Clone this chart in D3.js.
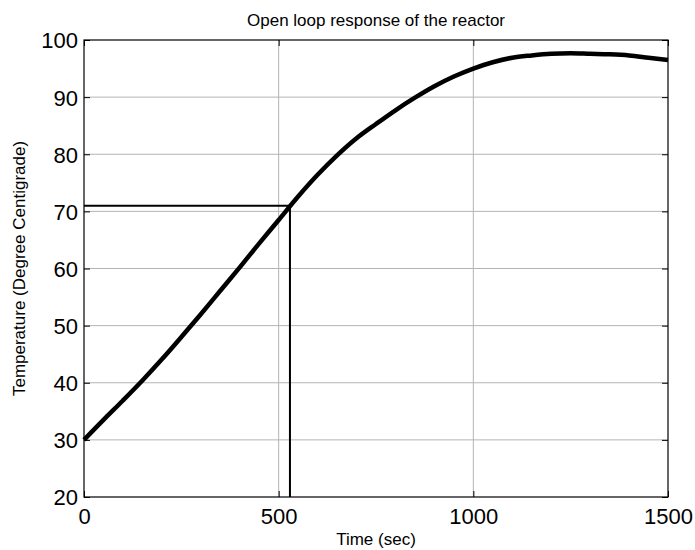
<!DOCTYPE html>
<html>
<head>
<meta charset="utf-8">
<script src="https://cdn.jsdelivr.net/npm/d3@7"></script>
<style>
  body { margin: 0; background: #fff; }
  svg text { font-family: "Liberation Sans", Arial, sans-serif; fill: #000; }
</style>
</head>
<body>
<div id="chart"></div>
<script>
const timeSec = [0, 50, 100, 150, 200, 250, 300, 350, 400, 450, 500, 550, 600, 650, 700,
    750, 800, 850, 900, 950, 1000, 1050, 1100, 1150, 1200, 1250, 1300, 1350, 1400, 1450, 1500];
const tempC = [30, 33.5, 36.9, 40.4, 44.1, 48.0, 52.0, 56.1, 60.2, 64.4, 68.5, 72.6, 76.4, 79.8, 82.8,
    85.3, 87.7, 89.9, 91.9, 93.6, 95.0, 96.1, 96.9, 97.3, 97.6, 97.7, 97.6, 97.5, 97.3, 96.9, 96.5];
// reading marker at ~63% of the rise
const markerT = 529, markerY = 71;
const xTicks = [0, 500, 1000, 1500];
const yTicks = [20, 30, 40, 50, 60, 70, 80, 90, 100];

const width = 695, height = 550;
const margin = {top: 40, right: 27, bottom: 53, left: 84};
const innerW = width - margin.left - margin.right;
const innerH = height - margin.top - margin.bottom;

const svg = d3.select("#chart").append("svg")
    .attr("width", width)
    .attr("height", height);

const x = d3.scaleLinear().domain([0, 1500]).range([0, innerW]);
const y = d3.scaleLinear().domain([20, 100]).range([innerH, 0]);

const g = svg.append("g")
    .attr("transform", `translate(${margin.left},${margin.top})`);

// grid
g.selectAll(".vgrid").data(xTicks.slice(1, -1)).enter().append("line")
    .attr("x1", d => x(d)).attr("x2", d => x(d))
    .attr("y1", 0).attr("y2", innerH)
    .attr("stroke", "#b4b4b4").attr("stroke-width", 1);
g.selectAll(".hgrid").data(yTicks.slice(1, -1)).enter().append("line")
    .attr("x1", 0).attr("x2", innerW)
    .attr("y1", d => y(d)).attr("y2", d => y(d))
    .attr("stroke", "#b4b4b4").attr("stroke-width", 1);

// axes (ticks inward, labels outside)
const xAxis = g.append("g").attr("transform", `translate(0,${innerH})`)
    .call(d3.axisBottom(x).tickValues(xTicks).tickFormat(d3.format("d"))
        .tickSizeInner(-6).tickSizeOuter(0).tickPadding(11));
const yAxis = g.append("g")
    .call(d3.axisLeft(y).tickValues(yTicks).tickSizeInner(-6).tickSizeOuter(0).tickPadding(6));
g.append("g").attr("transform", `translate(${innerW},0)`)
    .call(d3.axisRight(y).tickValues(yTicks).tickSizeInner(-6).tickSizeOuter(0).tickFormat(""));
g.append("g")
    .call(d3.axisTop(x).tickValues(xTicks).tickSizeInner(-6).tickSizeOuter(0).tickFormat(""));

g.selectAll(".domain").remove();
g.selectAll(".tick line").attr("stroke", "#000");
xAxis.selectAll("text").attr("font-size", 22).attr("dy", "0.71em");
yAxis.selectAll("text").attr("font-size", 22).attr("dy", "0.36em");

// box
g.append("rect")
    .attr("width", innerW).attr("height", innerH)
    .attr("fill", "none").attr("stroke", "#000").attr("stroke-width", 1.2);

// marker lines
g.append("path")
    .attr("d", d3.line()([[x(0), y(markerY)], [x(markerT), y(markerY)], [x(markerT), y(20)]]))
    .attr("fill", "none").attr("stroke", "#000").attr("stroke-width", 2);

// response curve
const line = d3.line()
    .x((d, i) => x(timeSec[i]))
    .y(d => y(d))
    .curve(d3.curveMonotoneX);
g.append("path")
    .datum(tempC)
    .attr("d", line)
    .attr("fill", "none").attr("stroke", "#000").attr("stroke-width", 4.5)
    .attr("stroke-linejoin", "round");

// title and labels
svg.append("text")
    .attr("x", margin.left + innerW / 2).attr("y", 26)
    .attr("text-anchor", "middle").attr("font-size", 17)
    .text("Open loop response of the reactor");
svg.append("text")
    .attr("x", margin.left + innerW / 2).attr("y", 545)
    .attr("text-anchor", "middle").attr("font-size", 17)
    .text("Time (sec)");
svg.append("text")
    .attr("transform", `translate(25,${margin.top + innerH / 2}) rotate(-90)`)
    .attr("text-anchor", "middle").attr("font-size", 17)
    .text("Temperature (Degree Centigrade)");
</script>
</body>
</html>
